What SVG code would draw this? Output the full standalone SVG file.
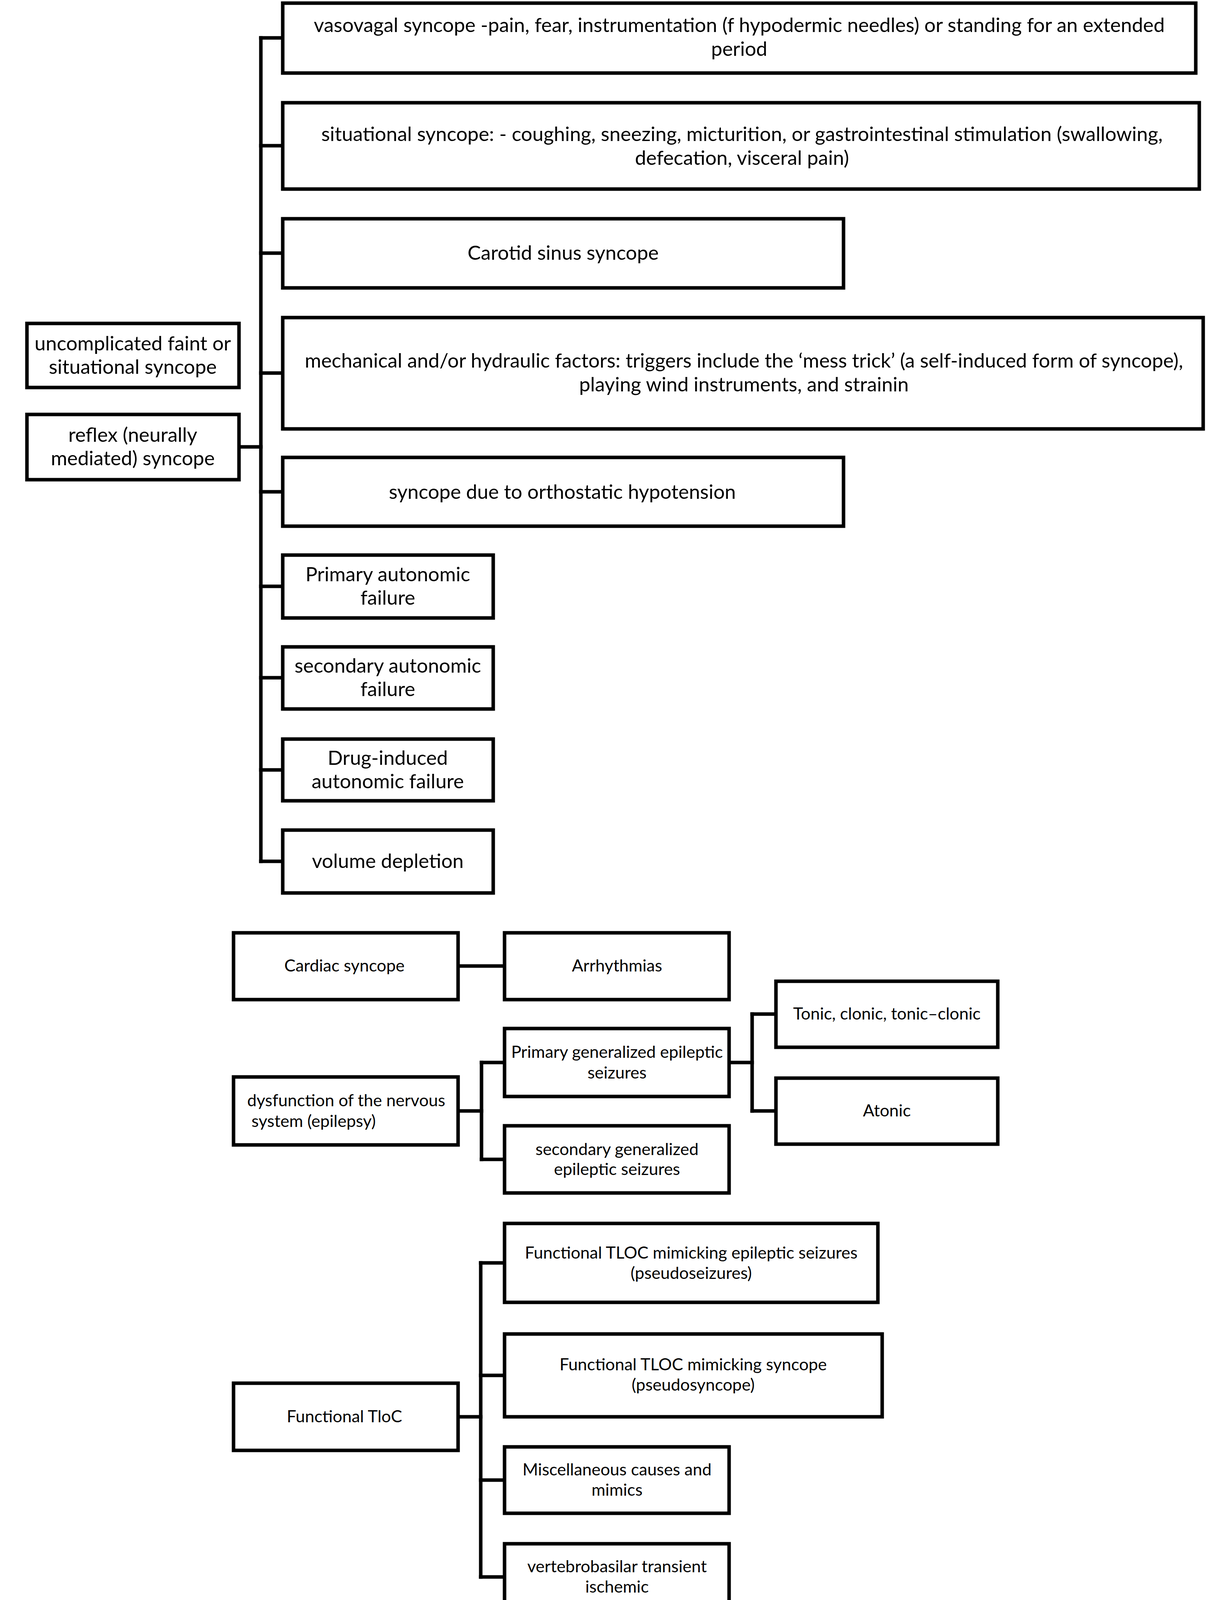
<svg xmlns="http://www.w3.org/2000/svg" width="3142" height="5648" viewBox="0 0 3142 5648">
<style>
rect{fill:#fff;stroke:#000;stroke-width:9}
.c line{stroke:#000;stroke-width:9;stroke-linecap:square}
text{font-family:Lato,"Liberation Sans",sans-serif;fill:#000;text-anchor:middle}
.t{font-size:51px}
.m{font-size:43px}
.l{text-anchor:start}
</style>
<rect x="0" y="0" width="3142" height="5648" style="stroke:none"/>
<g class="c" id="connectors">
<line x1="668" y1="97" x2="668" y2="2205"/>
<line x1="668" y1="97" x2="724" y2="97"/>
<line x1="668" y1="373" x2="724" y2="373"/>
<line x1="668" y1="648" x2="724" y2="648"/>
<line x1="668" y1="955" x2="724" y2="955"/>
<line x1="668" y1="1259" x2="724" y2="1259"/>
<line x1="668" y1="1501" x2="724" y2="1501"/>
<line x1="668" y1="1735" x2="724" y2="1735"/>
<line x1="668" y1="1971" x2="724" y2="1971"/>
<line x1="668" y1="2205" x2="724" y2="2205"/>
<line x1="612" y1="1144" x2="668" y2="1144"/>
<line x1="1173" y1="2473" x2="1292" y2="2473"/>
<line x1="1173" y1="2844" x2="1233" y2="2844"/>
<line x1="1233" y1="2720" x2="1233" y2="2968"/>
<line x1="1233" y1="2720" x2="1292" y2="2720"/>
<line x1="1233" y1="2968" x2="1292" y2="2968"/>
<line x1="1867" y1="2720" x2="1926" y2="2720"/>
<line x1="1926" y1="2596" x2="1926" y2="2844"/>
<line x1="1926" y1="2596" x2="1987" y2="2596"/>
<line x1="1926" y1="2844" x2="1987" y2="2844"/>
<line x1="1173" y1="3627" x2="1231" y2="3627"/>
<line x1="1231" y1="3233" x2="1231" y2="4037"/>
<line x1="1231" y1="3233" x2="1292" y2="3233"/>
<line x1="1231" y1="3521" x2="1292" y2="3521"/>
<line x1="1231" y1="3789" x2="1292" y2="3789"/>
<line x1="1231" y1="4037" x2="1292" y2="4037"/>
</g>
<g id="n-vasovagal"><rect x="724" y="8" width="2338" height="179"/>
<text class="t" x="1893" y="82">vasovagal syncope -pain, fear, instrumentation (f hypodermic needles) or standing for an extended</text>
<text class="t" x="1893" y="143">period</text></g>
<g id="n-situational"><rect x="724" y="263" width="2347" height="221"/>
<text class="t" x="1900" y="361">situational syncope: - coughing, sneezing, micturition, or gastrointestinal stimulation (swallowing,</text>
<text class="t" x="1900" y="422">defecation, visceral pain)</text></g>
<g id="n-carotid"><rect x="724" y="560" width="1436" height="177"/>
<text class="t" x="1442" y="665">Carotid sinus syncope</text></g>
<g id="n-mechanical"><rect x="724" y="813" width="2357" height="285"/>
<text class="t" x="1905" y="941">mechanical and/or hydraulic factors: triggers include the ‘mess trick’ (a self-induced form of syncope),</text>
<text class="t" x="1905" y="1002">playing wind instruments, and strainin</text></g>
<g id="n-orthostatic"><rect x="724" y="1171" width="1436" height="176"/>
<text class="t" x="1440" y="1277">syncope due to orthostatic hypotension</text></g>
<g id="n-primary-auto"><rect x="724" y="1421" width="539" height="161"/>
<text class="t" x="993" y="1488">Primary autonomic</text>
<text class="t" x="993" y="1548">failure</text></g>
<g id="n-secondary-auto"><rect x="724" y="1656" width="539" height="159"/>
<text class="t" x="993" y="1722">secondary autonomic</text>
<text class="t" x="993" y="1782">failure</text></g>
<g id="n-drug"><rect x="724" y="1892" width="539" height="158"/>
<text class="t" x="993" y="1958">Drug-induced</text>
<text class="t" x="993" y="2018">autonomic failure</text></g>
<g id="n-volume"><rect x="724" y="2125" width="539" height="161"/>
<text class="t" x="993" y="2222">volume depletion</text></g>
<g id="n-uncomplicated"><rect x="69" y="828" width="543" height="164"/>
<text class="t" x="340" y="897">uncomplicated faint or</text>
<text class="t" x="340" y="957">situational syncope</text></g>
<g id="n-reflex"><rect x="69" y="1061" width="543" height="167"/>
<text class="t" x="340" y="1131">reflex (neurally</text>
<text class="t" x="340" y="1191">mediated) syncope</text></g>
<g id="n-cardiac"><rect x="598" y="2388" width="575" height="171"/>
<text class="m" x="882" y="2487">Cardiac syncope</text></g>
<g id="n-arrhythmias"><rect x="1292" y="2388" width="575" height="171"/>
<text class="m" x="1580" y="2487">Arrhythmias</text></g>
<g id="n-tonic"><rect x="1987" y="2512" width="568" height="169"/>
<text class="m" x="2271" y="2610">Tonic, clonic, tonic–clonic</text></g>
<g id="n-primary-gen"><rect x="1292" y="2633" width="575" height="174"/>
<text class="m" x="1580" y="2708">Primary generalized epileptic</text>
<text class="m" x="1580" y="2761">seizures</text></g>
<g id="n-nervous"><rect x="598" y="2757" width="575" height="174"/>
<text class="m l" x="633" y="2832">dysfunction of the nervous</text>
<text class="m l" x="644" y="2885">system (epilepsy)</text></g>
<g id="n-atonic"><rect x="1987" y="2760" width="568" height="169"/>
<text class="m" x="2271" y="2858">Atonic</text></g>
<g id="n-secondary-gen"><rect x="1292" y="2882" width="575" height="172"/>
<text class="m" x="1580" y="2957">secondary generalized</text>
<text class="m" x="1580" y="3008">epileptic seizures</text></g>
<g id="n-functional"><rect x="598" y="3541" width="575" height="172"/>
<text class="m" x="882" y="3641">Functional TloC</text></g>
<g id="n-mimic-epi"><rect x="1292" y="3132" width="956" height="202"/>
<text class="m" x="1770" y="3222">Functional TLOC mimicking epileptic seizures</text>
<text class="m" x="1770" y="3274">(pseudoseizures)</text></g>
<g id="n-mimic-sync"><rect x="1292" y="3415" width="967" height="212"/>
<text class="m" x="1775" y="3508">Functional TLOC mimicking syncope</text>
<text class="m" x="1775" y="3560">(pseudosyncope)</text></g>
<g id="n-misc"><rect x="1292" y="3704" width="575" height="170"/>
<text class="m" x="1580" y="3777">Miscellaneous causes and</text>
<text class="m" x="1580" y="3829">mimics</text></g>
<g id="n-vertebro"><rect x="1292" y="3952" width="575" height="170"/>
<text class="m" x="1580" y="4025">vertebrobasilar transient</text>
<text class="m" x="1580" y="4077">ischemic</text></g>
<g id="n-sleepiness"><rect x="834" y="4228" width="1087" height="222"/>
<text class="m" x="1377" y="4350">excessive sleepiness during the day</text></g>
<g id="n-metabolic"><rect x="830" y="4534" width="1087" height="223"/>
<text class="m" x="1303" y="4670">Metabolic disorders (hypoglycemia)</text></g>
<g id="n-drop"><rect x="832" y="4851" width="1087" height="207"/>
<text class="m" x="1344" y="4985">‘Drop attacks’</text></g>
<g id="n-psyche"><rect x="828" y="5141" width="1486" height="186"/>
<text class="m" x="1534" y="5259">dysfunction of the psyche (psychogenic attacks)</text></g>
<g id="n-cataplexy"><rect x="826" y="5411" width="1086" height="190"/>
<text class="m" x="1368" y="5518">Cataplexy</text></g>
</svg>
